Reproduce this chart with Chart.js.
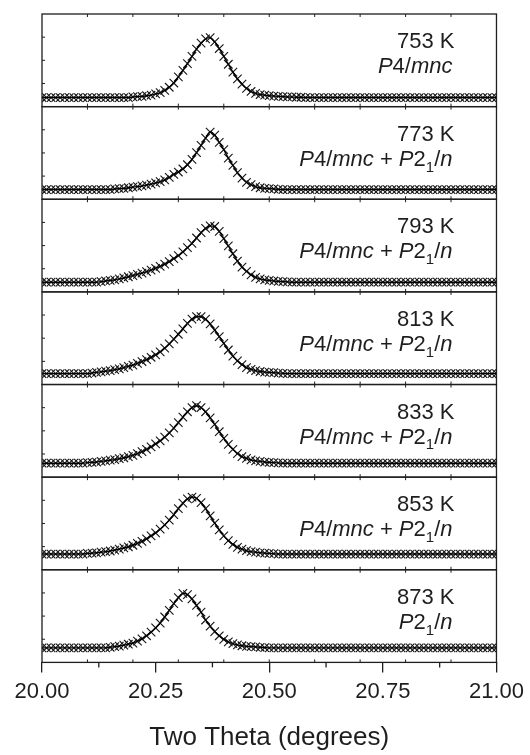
<!DOCTYPE html>
<html>
<head>
<meta charset="utf-8">
<script src="https://cdn.jsdelivr.net/npm/chart.js@4/dist/chart.umd.min.js"></script>
<style>
html,body{margin:0;padding:0;background:#fff;}
#wrap{width:530px;height:755px;position:relative;}
</style>
</head>
<body>
<div id="wrap"><canvas id="c" width="530" height="755"></canvas></div>
<script>
// ---- DATA ----
const twoTheta = [
20.00,20.01,20.02,20.03,20.04,20.05,20.06,20.07,20.08,20.09,
20.10,20.11,20.12,20.13,20.14,20.15,20.16,20.17,20.18,20.19,
20.20,20.21,20.22,20.23,20.24,20.25,20.26,20.27,20.28,20.29,
20.30,20.31,20.32,20.33,20.34,20.35,20.36,20.37,20.38,20.39,
20.40,20.41,20.42,20.43,20.44,20.45,20.46,20.47,20.48,20.49,
20.50,20.51,20.52,20.53,20.54,20.55,20.56,20.57,20.58,20.59,
20.60,20.61,20.62,20.63,20.64,20.65,20.66,20.67,20.68,20.69,
20.70,20.71,20.72,20.73,20.74,20.75,20.76,20.77,20.78,20.79,
20.80,20.81,20.82,20.83,20.84,20.85,20.86,20.87,20.88,20.89,
20.90,20.91,20.92,20.93,20.94,20.95,20.96,20.97,20.98,20.99,
21.00];

const temperatures = ['753 K','773 K','793 K','813 K','833 K','853 K','873 K'];
// '*' toggles italic, '_x' makes x a subscript
const phases = ['*P*4/*mnc*','*P*4/*mnc* + *P*2_1/*n*','*P*4/*mnc* + *P*2_1/*n*','*P*4/*mnc* + *P*2_1/*n*','*P*4/*mnc* + *P*2_1/*n*','*P*4/*mnc* + *P*2_1/*n*','*P*2_1/*n*'];

const xTicks = [20.00, 20.25, 20.50, 20.75, 21.00];

const int753 = [
0,0,0,0,0,0,0,0,0,0,
0,0,0,0,0,0,0,0,0,0,
1,1.5,2,3,4,6,8,12,17,24,
34,45,56,68,80,90,97,99,92,81,
68,55,42,31,22,15,10,7,5,4,
3,2.5,2,1.5,1,1,0.5,0.5,0,0,
0,0,0,0,0,0,0,0,0,0,
0,0,0,0,0,0,0,0,0,0,
0,0,0,0,0,0,0,0,0,0,
0,0,0,0,0,0,0,0,0,0,
0];
const int773 = [
0,0,0,0,0,0,0,0,0,0,
0,0,0,0,0,0,1,1.5,2,3,
4,5,6,7.5,9,11,13,16,20,25,
29,34,41,50,61,73,85,95,90,78,
66,52,40,28,19,12,8,5,3,2,
1.5,1,0.5,0,0,0,0,0,0,0,
0,0,0,0,0,0,0,0,0,0,
0,0,0,0,0,0,0,0,0,0,
0,0,0,0,0,0,0,0,0,0,
0,0,0,0,0,0,0,0,0,0,
0];
const int793 = [
0,0,0,0,0,0,0,0,0,0,
0,0,0,1,2,3,4,5.5,7,9,
11,13,15,17.5,20,23,26,30,34,39,
44,50,57,64,73,82,89,93,92,84,
72,60,47,35,25,18,12,8,5.5,4,
3,2,1.5,1,0.5,0,0,0,0,0,
0,0,0,0,0,0,0,0,0,0,
0,0,0,0,0,0,0,0,0,0,
0,0,0,0,0,0,0,0,0,0,
0,0,0,0,0,0,0,0,0,0,
0];
const int813 = [
0,0,0,0,0,0,0,0,0,0,
0,1,2,3,4,5,6.5,8,10,12,
14,17,20,23,27,31,36,42,49,57,
65,74,83,90,94,94,90,82,72,61,
50,39,29,21,15,10,7,5,3.5,2.5,
2,1.5,1,0.5,0,0,0,0,0,0,
0,0,0,0,0,0,0,0,0,0,
0,0,0,0,0,0,0,0,0,0,
0,0,0,0,0,0,0,0,0,0,
0,0,0,0,0,0,0,0,0,0,
0];
const int833 = [
0,0,0,0,0,0,0,0,0,0,
1,1.5,2,3,4,5,6,7.5,9,11,
13,16,19,23,27,32,37,43,50,58,
67,76,85,92,95,92,85,75,64,52,
41,31,23,16,11,8,5.5,4,3,2,
1.5,1,0.5,0,0,0,0,0,0,0,
0,0,0,0,0,0,0,0,0,0,
0,0,0,0,0,0,0,0,0,0,
0,0,0,0,0,0,0,0,0,0,
0,0,0,0,0,0,0,0,0,0,
0];
const int853 = [
0,0,0,0,0,0,0,0,0,0,
1,1.5,2,3,4,5,6.5,8,10,12,
14.5,17.5,21,25,30,35,41,48,56,65,
75,84,91,94,92,85,75,63,51,40,
30,22,16,11,8,5.5,4,3,2,1.5,
1,0.5,0,0,0,0,0,0,0,0,
0,0,0,0,0,0,0,0,0,0,
0,0,0,0,0,0,0,0,0,0,
0,0,0,0,0,0,0,0,0,0,
0,0,0,0,0,0,0,0,0,0,
0];
const int873 = [
0,0,0,0,0,0,0,0,0,0,
0,0,0,0,0,1,2,3,4.5,6,
8,11,15,20,26,33,41,51,62,73,
83,90,88,81,70,59,46,36,27,20,
14,10,7,5,3.5,2.5,2,1.5,1,0.5,
0,0,0,0,0,0,0,0,0,0,
0,0,0,0,0,0,0,0,0,0,
0,0,0,0,0,0,0,0,0,0,
0,0,0,0,0,0,0,0,0,0,
0,0,0,0,0,0,0,0,0,0,
0];

const intensities = [int753,int773,int793,int813,int833,int853,int873];

// ---- layout / style ----
const FONT = "'Liberation Sans', Arial, Helvetica, sans-serif";
const INK = '#1e1e1e';
const panelMin = [-15,-16,-16,-18,-23,-26,-24];
const panelSpan = 153;

Chart.defaults.font.family = FONT;
Chart.defaults.color = INK;

const datasets = [];
const scales = {
  x: {
    type: 'linear', position: 'bottom', min: 20, max: 21,
    afterBuildTicks: (s) => { s.ticks = xTicks.map(v => ({value: v})); },
    ticks: { callback: (v) => Number(v).toFixed(2), font: {size: 22}, color: INK, padding: 6, maxRotation: 0, autoSkip: false },
    grid: { display: true, drawOnChartArea: false, drawTicks: true, tickLength: 10, color: INK, lineWidth: 1.3 },
    border: { display: false },
    title: { display: true, text: 'Two Theta (degrees)', font: {size: 26}, color: INK, padding: {top: 11, bottom: 0} }
  }
};

// stacked scales are placed bottom-up in definition order, so define the last panel first
for (let i = intensities.length - 1; i >= 0; i--) {
  scales['p' + i] = {
    type: 'linear', position: 'left', stack: 'panels', stackWeight: 1,
    min: panelMin[i], max: panelMin[i] + panelSpan,
    ticks: { display: false }, grid: { display: false }, border: { display: false }
  };
}

intensities.forEach((arr, i) => {
  const id = 'p' + i;
  const pts = twoTheta.map((x, j) => ({x: x, y: arr[j]}));
  datasets.push({
    label: temperatures[i] + ' fit', data: pts, yAxisID: id, xAxisID: 'x',
    borderColor: '#000', borderWidth: 1.4, pointRadius: 0, showLine: true,
    cubicInterpolationMode: 'monotone', order: 0
  });
  datasets.push({
    label: temperatures[i] + ' obs', data: pts, yAxisID: id, xAxisID: 'x',
    showLine: false, pointStyle: 'crossRot', pointRadius: 6,
    borderColor: '#141414', backgroundColor: '#141414', pointBorderWidth: 1.1, order: 1
  });
});

function parseRich(str) {
  const segs = [];
  let italic = false, buf = '';
  const flush = () => { if (buf) { segs.push({t: buf, it: italic, sub: false}); buf = ''; } };
  for (let k = 0; k < str.length; k++) {
    const ch = str[k];
    if (ch === '*') { flush(); italic = !italic; }
    else if (ch === '_') { flush(); segs.push({t: str[k + 1], it: false, sub: true}); k++; }
    else buf += ch;
  }
  flush();
  return segs;
}

function drawRich(ctx, str, xRight, yBase, size) {
  const segs = parseRich(str);
  const fontOf = (s) => (s.it ? 'italic ' : '') + (s.sub ? Math.round(size * 0.68) : size) + 'px ' + FONT;
  let total = 0;
  segs.forEach(s => { ctx.font = fontOf(s); s.w = ctx.measureText(s.t).width; total += s.w; });
  let x = xRight - total;
  segs.forEach(s => {
    ctx.font = fontOf(s);
    ctx.fillText(s.t, x, yBase + (s.sub ? size * 0.27 : 0));
    x += s.w;
  });
}

const panelPlugin = {
  id: 'panels',
  afterDatasetsDraw(chart) {
    const ctx = chart.ctx, a = chart.chartArea, xs = chart.scales.x;
    ctx.save();
    ctx.strokeStyle = INK;
    const line = (x1, y1, x2, y2) => { ctx.beginPath(); ctx.moveTo(x1, y1); ctx.lineTo(x2, y2); ctx.stroke(); };
    intensities.forEach((arr, i) => {
      const s = chart.scales['p' + i];
      ctx.lineWidth = 1.3;
      ctx.strokeRect(a.left, s.top, a.right - a.left, s.bottom - s.top);
      ctx.lineWidth = 1;
      for (let k = 1; k < 10; k++) {
        const x = xs.getPixelForValue(20 + k * 0.1);
        line(x, s.top, x, s.top + 3);
        line(x, s.bottom, x, s.bottom - 3);
      }
      for (let q = 1; q < 4; q++) {
        const y = s.top + q * (s.bottom - s.top) / 4;
        line(a.left, y, a.left + 3, y);
      }
      ctx.fillStyle = INK;
      ctx.textAlign = 'left';
      ctx.textBaseline = 'alphabetic';
      drawRich(ctx, temperatures[i], a.right - 42, s.top + 34, 22);
      drawRich(ctx, phases[i], a.right - 44, s.top + 59, 22);
    });
    ctx.lineWidth = 1.3;
    for (const k of [1, 3, 5, 7]) {
      const x = xs.getPixelForValue(20 + k * 0.125);
      line(x, a.bottom, x, a.bottom + 5);
    }
    ctx.restore();
  }
};

new Chart(document.getElementById('c'), {
  type: 'scatter',
  data: { datasets: datasets },
  options: {
    responsive: false, animation: false, devicePixelRatio: 1,
    layout: { padding: { left: 34, right: 33, top: 14, bottom: 2 } },
    plugins: { legend: { display: false }, tooltip: { enabled: false } },
    scales: scales
  },
  plugins: [panelPlugin]
});
</script>
</body>
</html>
